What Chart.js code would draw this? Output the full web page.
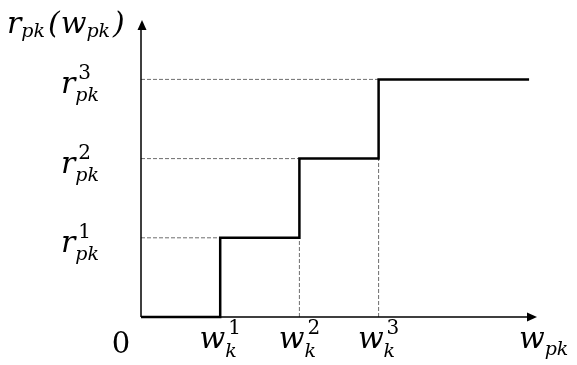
<!DOCTYPE html>
<html>
<head>
<meta charset="utf-8">
<script src="https://cdn.jsdelivr.net/npm/chart.js@4.4.1/dist/chart.umd.min.js"></script>
<style>
  html, body { margin: 0; padding: 0; background: #ffffff; }
  #wrap { width: 577px; height: 365px; position: relative; }
</style>
</head>
<body>
<div id="wrap"><canvas id="c" width="577" height="365"></canvas></div>
<script>
// ---- data ----
const breakpoints = [1, 2, 3];          // w_k^1, w_k^2, w_k^3
const levels = [1, 2, 3];               // r_pk^1, r_pk^2, r_pk^3
const stepEndX = 4.9;                   // where the last step ends
const xMax = 5;
const yMax = 3.75;

// tick labels (base, superscript, subscript)
const xTickBase = ['w', 'w', 'w'];
const xTickSup = ['1', '2', '3'];
const xTickSub = ['k', 'k', 'k'];
const yTickBase = ['r', 'r', 'r'];
const yTickSup = ['1', '2', '3'];
const yTickSub = ['pk', 'pk', 'pk'];
const originLabel = '0';
const xAxisBase = 'w', xAxisSub = 'pk';
const yAxisTitle = [['r', 'pk'], ['(', ''], ['w', 'pk'], [')', '']];

// ---- build datasets ----
const stepPoints = [{x: 0, y: 0}];
breakpoints.forEach((b, i) => stepPoints.push({x: b, y: levels[i]}));
stepPoints.push({x: stepEndX, y: levels[levels.length - 1]});

const dashStyle = {
  showLine: true, borderColor: '#6e6e6e', borderWidth: 1, borderDash: [4, 2],
  pointRadius: 0, fill: false, clip: false, order: 2
};
const dashedSets = [];
levels.forEach((lv, i) => {
  dashedSets.push(Object.assign({data: [{x: 0, y: lv}, {x: breakpoints[i], y: lv}]}, dashStyle));
  if (i > 0) {
    dashedSets.push(Object.assign({data: [{x: breakpoints[i], y: 0}, {x: breakpoints[i], y: levels[i - 1]}]}, dashStyle));
  }
});

const MAIN = 'italic 30px "DejaVu Serif"';
const SUPF = '20px "DejaVu Serif"';
const SUBF = 'italic 19px "DejaVu Serif"';

function mathWidth(ctx, base, sup, sub) {
  ctx.font = MAIN; const bw = ctx.measureText(base).width;
  ctx.font = SUPF; const sw = sup ? ctx.measureText(sup).width + 3 : 0;
  ctx.font = SUBF; const bw2 = sub ? ctx.measureText(sub).width : 0;
  return bw + Math.max(sw, bw2);
}
function drawMath(ctx, x, y, base, sup, sub, subShift) {
  ctx.font = MAIN;
  ctx.fillText(base, x, y);
  const bw = ctx.measureText(base).width;
  if (sup) { ctx.font = SUPF; ctx.fillText(sup, x + bw + 3, y - 14); }
  if (sub) { ctx.font = SUBF; ctx.fillText(sub, x + bw, y + subShift); }
}

const annotPlugin = {
  id: 'annot',
  afterDatasetsDraw(chart) {
    const ctx = chart.ctx;
    const xs = chart.scales.x, ys = chart.scales.y;
    const ox = xs.getPixelForValue(0), oy = ys.getPixelForValue(0);
    const right = xs.getPixelForValue(xMax), top = ys.getPixelForValue(yMax);
    ctx.save();
    ctx.strokeStyle = '#000'; ctx.fillStyle = '#000'; ctx.lineWidth = 1.5;
    // axes
    ctx.beginPath();
    ctx.moveTo(ox, oy); ctx.lineTo(right - 9, oy);
    ctx.moveTo(ox, oy); ctx.lineTo(ox, top + 9);
    ctx.stroke();
    ctx.beginPath();
    ctx.moveTo(right, oy); ctx.lineTo(right - 10, oy - 4.5); ctx.lineTo(right - 10, oy + 4.5); ctx.closePath();
    ctx.fill();
    ctx.beginPath();
    ctx.moveTo(ox + 1, top); ctx.lineTo(ox + 1 - 4.5, top + 10); ctx.lineTo(ox + 1 + 4.5, top + 10); ctx.closePath();
    ctx.fill();

    ctx.fillStyle = '#000';
    ctx.textBaseline = 'alphabetic';
    ctx.textAlign = 'left';
    // y tick labels
    levels.forEach((lv, i) => {
      const py = ys.getPixelForValue(lv);
      drawMath(ctx, 61, py + 14, yTickBase[i], yTickSup[i], yTickSub[i], 8);
    });
    // x tick labels
    breakpoints.forEach((b, i) => {
      const px = xs.getPixelForValue(b);
      const w = mathWidth(ctx, xTickBase[i], xTickSup[i], xTickSub[i]);
      drawMath(ctx, px - w / 2, oy + 31, xTickBase[i], xTickSup[i], xTickSub[i], 9);
    });
    // origin
    ctx.font = '29px "DejaVu Serif"';
    ctx.textAlign = 'center';
    ctx.fillText(originLabel, ox - 20, oy + 36);
    ctx.textAlign = 'left';
    // x axis title
    drawMath(ctx, 519, oy + 31, xAxisBase, '', xAxisSub, 7);
    // y axis title
    let tx = 7;
    yAxisTitle.forEach(([b, s]) => {
      ctx.font = MAIN;
      ctx.fillText(b, tx, 33);
      let w = ctx.measureText(b).width;
      if (s) { ctx.font = SUBF; ctx.fillText(s, tx + w, 37); w += ctx.measureText(s).width + 2; }
      tx += w + 1;
    });
    ctx.restore();
  }
};

new Chart(document.getElementById('c'), {
  type: 'scatter',
  data: {
    datasets: [
      {
        data: stepPoints, showLine: true, stepped: 'before',
        borderColor: '#000', borderWidth: 2.5, pointRadius: 0, fill: false, clip: false, order: 1
      },
      ...dashedSets
    ]
  },
  options: {
    responsive: false,
    animation: false,
    layout: { padding: { left: 141, right: 40, top: 20, bottom: 48 } },
    plugins: { legend: { display: false }, tooltip: { enabled: false }, title: { display: false } },
    scales: {
      x: { type: 'linear', min: 0, max: xMax, display: false },
      y: { type: 'linear', min: 0, max: yMax, display: false }
    }
  },
  plugins: [annotPlugin]
});
</script>
</body>
</html>
